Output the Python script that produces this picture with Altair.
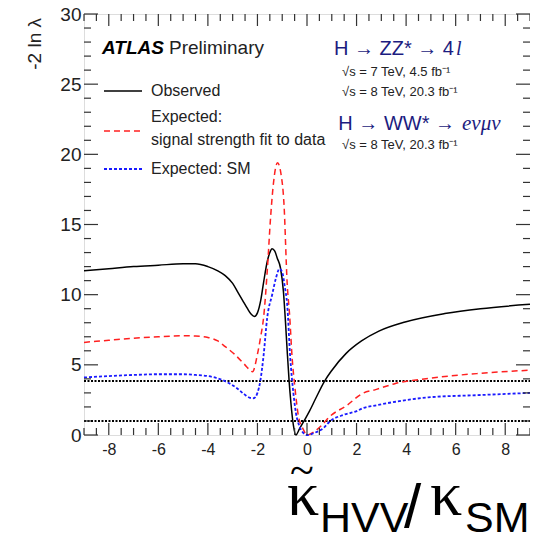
import altair as alt
import pandas as pd

# ---------------- data ----------------
obs_x = [-9, -8, -7, -6, -5, -4.5, -4, -3.6, -3.3, -3.0, -2.8, -2.6, -2.4, -2.25, -2.12, -2.0,
         -1.87, -1.75, -1.6, -1.5, -1.41, -1.3, -1.2, -1.07, -0.95, -0.87, -0.8, -0.72, -0.65,
         -0.55, -0.45, -0.3, -0.12, 0.1, 0.35, 0.71, 1.0, 1.57, 2.2, 2.9, 3.96, 5.56, 7.0, 9.0]
obs_y = [11.7, 11.85, 12.0, 12.1, 12.2, 12.2, 12.0, 11.7, 11.36, 10.8, 10.2, 9.6, 9.0, 8.6, 8.45, 8.7,
         9.57, 10.9, 12.4, 13.0, 13.27, 13.1, 12.6, 11.9, 10.2, 8.1, 6.0, 3.8, 2.3,
         0.7, 0.0, 0.45, 1.0, 1.7, 2.6, 3.84, 4.6, 5.8, 6.7, 7.4, 8.05, 8.65, 9.0, 9.31]

fit_x = [-9, -8, -7, -6, -5, -4.5, -4, -3.6, -3.3, -2.93, -2.53, -2.3, -2.2, -2.0, -1.87, -1.75,
         -1.6, -1.47, -1.35, -1.19, -1.05, -0.93, -0.8, -0.7, -0.6, -0.5, -0.35, -0.15, 0.0,
         0.3, 0.6, 0.91, 1.6, 2.24, 2.8, 3.57, 4.89, 6.89, 9.0]
fit_y = [6.6, 6.75, 6.9, 7.0, 7.07, 7.05, 6.95, 6.7, 6.3, 5.76, 5.05, 4.62, 4.5, 5.76, 7.0, 8.4,
         11.8, 15.5, 18.0, 19.4, 18.6, 16.5, 10.8, 8.5, 5.5, 3.6, 1.4, 0.4, 0.0,
         0.25, 0.7, 1.3, 2.1, 2.96, 3.25, 3.67, 4.03, 4.38, 4.62]

sm_x = [-9, -8, -7, -6, -5, -4.5, -4, -3.73, -3.4, -3.07, -2.8, -2.53, -2.3, -2.15, -2.0, -1.88,
        -1.75, -1.61, -1.4, -1.25, -1.11, -1.0, -0.9, -0.8, -0.68, -0.55, -0.45, -0.3, -0.15, 0.0,
        0.3, 0.67, 0.91, 1.5, 2.0, 2.24, 2.8, 3.57, 4.89, 6.89, 9.0]
sm_y = [4.1, 4.2, 4.28, 4.33, 4.33, 4.28, 4.2, 4.1, 3.9, 3.62, 3.3, 2.9, 2.65, 2.62, 3.0, 3.9,
        5.7, 8.3, 10.05, 11.2, 11.85, 11.6, 10.6, 9.3, 5.6, 3.0, 1.6, 0.6, 0.15, 0.0,
        0.15, 0.5, 0.95, 1.45, 1.7, 1.9, 2.12, 2.37, 2.68, 2.84, 3.0]

ref_levels = [1.0, 3.84]

x_major = [-8, -6, -4, -2, 0, 2, 4, 6, 8]
x_minor = [v / 2 for v in range(-18, 19) if v % 4 != 0]
y_major = [0, 5, 10, 15, 20, 25, 30]
y_minor = [v for v in range(0, 31) if v % 5 != 0]

legend_labels = ["Observed", "Expected:", "signal strength fit to data", "Expected: SM"]

# ---------------- layout ----------------
W, H = 446, 421
FONT = "Liberation Sans"
AX = "#333333"
NAVY = "#1c1c80"
xs = alt.Scale(domain=[-9, 9], nice=False, zero=False)
ys = alt.Scale(domain=[0, 30], nice=False, zero=False)
XA = alt.Axis(values=x_major, ticks=False, domain=False, grid=False, title=None,
              labelFontSize=16, labelColor="#222", labelPadding=6,
              labelExpr="'' + datum.value", labelFont=FONT)
YA = alt.Axis(values=y_major, ticks=False, domain=False, grid=False, title=None,
              labelFontSize=19, labelColor="#222", labelPadding=3, labelFont=FONT)
one = pd.DataFrame({"a": [0]})


def curve(xv, yv, color, width, dash=None):
    df = pd.DataFrame({"x": xv, "y": yv})
    kw = dict(color=color, strokeWidth=width, interpolate="monotone")
    if dash is not None:
        kw["strokeDash"] = dash
    return alt.Chart(df).mark_line(**kw).encode(
        x=alt.X("x:Q", scale=xs, axis=XA),
        y=alt.Y("y:Q", scale=ys, axis=YA),
    )


def xticks(vals, length, top):
    df = pd.DataFrame({"v": vals})
    if top:
        y1, y2 = 0, length
    else:
        y1, y2 = H, H - length
    return alt.Chart(df).mark_rule(color=AX, strokeWidth=1.2).encode(
        x=alt.X("v:Q", scale=xs, axis=XA), y=alt.value(y1), y2=alt.value(y2))


def yticks(vals, length, right):
    df = pd.DataFrame({"v": vals})
    if right:
        x1, x2 = W, W - length
    else:
        x1, x2 = 0, length
    return alt.Chart(df).mark_rule(color=AX, strokeWidth=1.2).encode(
        y=alt.Y("v:Q", scale=ys, axis=YA), x=alt.value(x1), x2=alt.value(x2))


def txt(s, x, y, size, color="#222", align="left", baseline="middle", font=FONT,
        weight="normal", style="normal", angle=0):
    return alt.Chart(one).mark_text(
        text=s, fontSize=size, color=color, align=align, baseline=baseline, font=font,
        fontWeight=weight, fontStyle=style, angle=angle,
    ).encode(x=alt.value(x), y=alt.value(y))


def leg_line(y, color, width, dash=None):
    kw = dict(color=color, strokeWidth=width)
    if dash is not None:
        kw["strokeDash"] = dash
    return alt.Chart(one).mark_rule(**kw).encode(
        x=alt.value(20), x2=alt.value(58), y=alt.value(y))


refs = alt.Chart(pd.DataFrame({"v": ref_levels})).mark_rule(
    color="black", strokeWidth=2, strokeDash=[2, 1.5]).encode(
    y=alt.Y("v:Q", scale=ys, axis=YA), x=alt.value(0), x2=alt.value(W))

layers = [
    curve(obs_x, obs_y, "black", 1.5),
    refs,
    curve(fit_x, fit_y, "#ff2020", 1.5, dash=[6, 4]),
    curve(sm_x, sm_y, "#1a1aff", 1.8, dash=[3, 2]),
    xticks(x_major, 12, False), xticks(x_minor, 7, False),
    xticks(x_major, 12, True), xticks(x_minor, 7, True),
    yticks(y_major, 14, False), yticks(y_minor, 7, False),
    yticks(y_major, 14, True), yticks(y_minor, 7, True),
    # y title
    txt("-2 ln λ", -49, 4, 19, align="right", angle=270),
    # ATLAS label
    txt("ATLAS", 18, 34, 19, color="black", weight="bold", style="italic"),
    txt("Preliminary", 85, 34, 19, color="#222"),
    # legend
    leg_line(77, "black", 1.5),
    leg_line(117, "#ff2020", 1.5, dash=[6, 4]),
    leg_line(155, "#1a1aff", 1.8, dash=[3, 2]),
    txt(legend_labels[0], 67, 77, 16),
    txt(legend_labels[1], 67, 103, 16),
    txt(legend_labels[2], 67, 126, 16),
    txt(legend_labels[3], 67, 155, 16),
    # channel labels
    txt("H → ZZ* → 4", 370, 35, 20, color=NAVY, align="right"),
    txt("l", 372, 35, 20, color=NAVY, style="italic", font="Liberation Serif"),
    txt("√s = 7 TeV, 4.5 fb⁻¹", 258, 58, 13),
    txt("√s = 8 TeV, 20.3 fb⁻¹", 258, 78, 13),
    txt("H → WW* →", 371, 110, 20, color=NAVY, align="right"),
    txt("eνμν", 378, 110, 21, color=NAVY, style="italic", font="Liberation Serif"),
    txt("√s = 8 TeV, 20.3 fb⁻¹", 258, 131, 13),
    # x-axis title
    txt("~", 218, 458, 44, color="black", align="center", baseline="middle", font="Liberation Serif"),
    txt("κ", 203, 501, 64, color="black", baseline="alphabetic", font="Liberation Serif"),
    txt("HVV", 236, 518, 43, color="black", baseline="alphabetic"),
    txt("/", 320, 513, 62, color="black", baseline="alphabetic"),
    txt("κ", 346, 501, 64, color="black", baseline="alphabetic", font="Liberation Serif"),
    txt("SM", 381, 518, 43, color="black", baseline="alphabetic"),
]

chart = alt.layer(*layers).properties(
    width=W, height=H,
    autosize=alt.AutoSizeParams(type="none"),
    padding={"left": 76, "top": 6, "right": 0, "bottom": 99},
).configure_view(stroke=AX, strokeWidth=1.5).configure(font=FONT)

chart.save("out.html", embed_options={"renderer": "svg", "actions": False})
